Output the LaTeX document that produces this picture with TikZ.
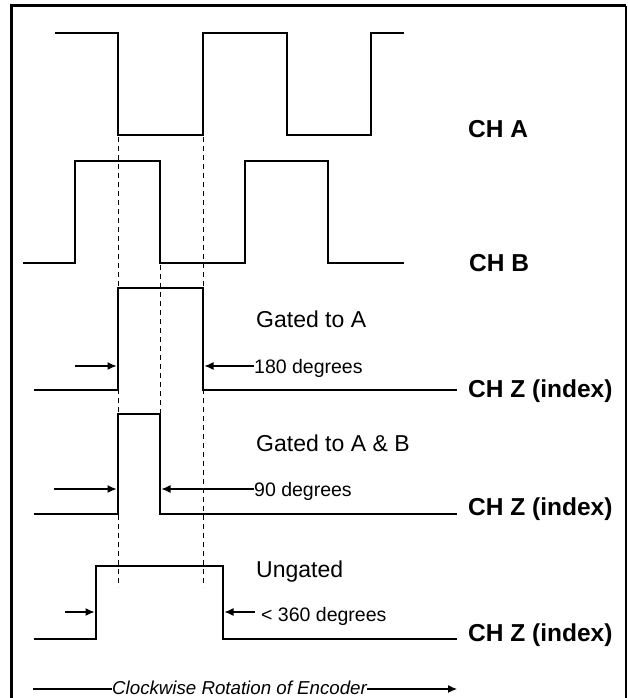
\documentclass[tikz,border=0pt]{standalone}
\usepackage{fontspec}
\setmainfont{Liberation Sans}
\usetikzlibrary{arrows.meta}
\begin{document}
\begin{tikzpicture}[x=1pt,y=-1pt,
 wave/.style={line width=2.8pt, line join=miter},
 guide/.style={line width=1pt, dash pattern=on 5pt off 4pt},
 frameline/.style={line width=3pt},
 chlabel/.style={anchor=base west, inner sep=0pt, font=\fontsize{24.5}{28}\selectfont\bfseries},
 note/.style={anchor=base west, inner sep=0pt, font=\fontsize{23}{27}\selectfont},
 deg/.style={anchor=base west, inner sep=0pt, font=\fontsize{19.5}{23}\selectfont},
 rotlabel/.style={anchor=base west, inner sep=0pt, font=\fontsize{18.7}{22}\selectfont\itshape},
 dim/.style={line width=1.2pt, -{Latex[length=9pt,width=8pt]}},
 plain/.style={line width=1.2pt},
]
\useasboundingbox (0,0) rectangle (628,698);
% frame
\draw[frameline] (11,700) -- (11,6) -- (626,6);
\draw[line width=2pt] (626,6) -- (626,700);

% guide lines
\draw[guide] (118,137) -- (118,587);
\draw[guide] (203,137) -- (203,587);
\draw[guide] (160,265) -- (160,414);

% CH A
\draw[wave] (55,33) -- (118,33) -- (118,135) -- (203,135) -- (203,33) -- (287,33) -- (287,135) -- (371,135) -- (371,33) -- (404,33);
% CH B
\draw[wave] (23,263) -- (75,263) -- (75,161) -- (160,161) -- (160,263) -- (245,263) -- (245,161) -- (328,161) -- (328,263) -- (404,263);
% CH Z gated to A
\draw[wave] (34,390) -- (118,390) -- (118,288) -- (203,288) -- (203,390) -- (457,390);
% CH Z gated to A & B
\draw[wave] (34,514) -- (118,514) -- (118,414) -- (160,414) -- (160,514) -- (457,514);
% CH Z ungated
\draw[wave] (34,639) -- (96,639) -- (96,566) -- (223,566) -- (223,639) -- (457,639);

% channel labels
\node[chlabel] (cha) at (468,137) {CH A};
\node[chlabel] (chb) at (469,271) {CH B};
\node[chlabel] (chz1) at (468,397) {CH Z (index)};
\node[chlabel] (chz2) at (468,515) {CH Z (index)};
\node[chlabel] (chz3) at (468,641) {CH Z (index)};

% notes
\node[note] (g1) at (256,327) {Gated to A};
\node[note] (g2) at (256,451) {Gated to A \& B};
\node[note] (g3) at (256,577) {Ungated};

% degrees
\node[deg] (d1) at (254,373) {180 degrees};
\node[deg] (d2) at (254,496) {90 degrees};
\node[deg] (d3) at (261,621) {< 360 degrees};

% dimension arrows
\coordinate (a1s) at (75,366);
\coordinate (a1l) at (116.5,366);
\coordinate (a1r) at (204.5,366);
\draw[dim] (a1s) -- (a1l);
\draw[dim] (d1.west |- a1r) -- (a1r);

\coordinate (a2s) at (54,489);
\coordinate (a2l) at (116.5,489);
\coordinate (a2r) at (161.5,489);
\draw[dim] (a2s) -- (a2l);
\draw[dim] (d2.west |- a2r) -- (a2r);

\coordinate (a3s) at (65,612);
\coordinate (a3l) at (94.5,612);
\coordinate (a3r) at (224.5,612);
\coordinate (a3e) at (255,612);
\draw[dim] (a3s) -- (a3l);
\draw[dim] (a3e) -- (a3r);

% rotation arrow
\node[rotlabel] (rot) at (112,694.5) {Clockwise Rotation of Encoder};
\coordinate (b0) at (33,689);
\coordinate (b1) at (457,689);
\draw[plain] (b0) -- (rot.west |- b0);
\draw[dim] (rot.east |- b0) -- (b1);
\end{tikzpicture}
\end{document}
